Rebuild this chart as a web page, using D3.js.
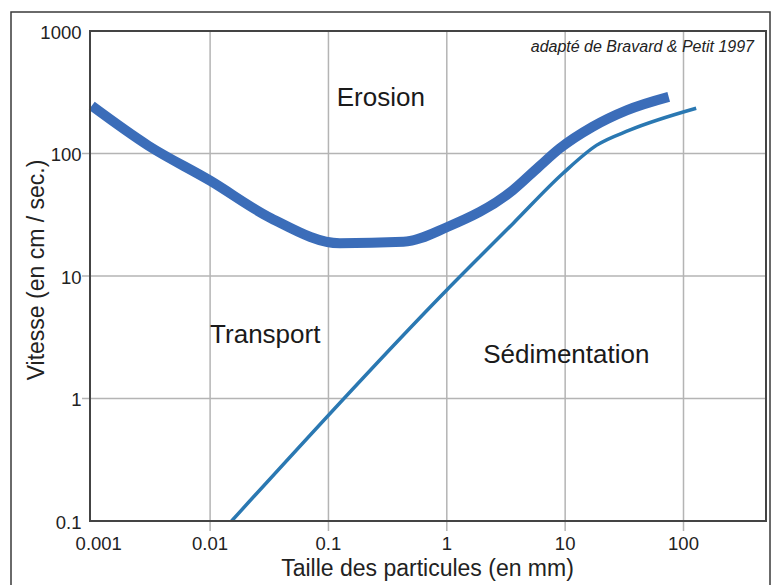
<!DOCTYPE html>
<html><head><meta charset="utf-8">
<script src="https://cdn.jsdelivr.net/npm/d3@7"></script>
<style>
html,body{margin:0;padding:0;background:#fff;}
svg{display:block;font-family:"Liberation Sans",Arial,sans-serif;}
</style></head>
<body>
<svg id="chart" width="771" height="585"></svg>
<script>
// ---- data ----
const xTicks = [0.001, 0.01, 0.1, 1, 10, 100];
const xTickLabels = ["0.001", "0.01", "0.1", "1", "10", "100"];
const yTicks = [0.1, 1, 10, 100, 1000];
const yTickLabels = ["0.1", "1", "10", "100", "1000"];

const erosionSize  = [0.001, 0.003, 0.01, 0.033, 0.125, 0.43, 1, 3.6, 6, 9, 17, 33, 75];
const erosionSpeed = [245, 116, 60, 29.5, 18.5, 19, 25, 50, 78, 110, 165, 225, 290];

const sedimSize  = [0.0152, 1, 3.65, 9.6, 18.5, 35, 128];
const sedimSpeed = [0.1, 7.7, 27, 69, 117, 155, 234];

const regionLabels = ["Erosion", "Transport", "Sédimentation"];
const regionSize  = [0.1175, 0.01, 2.03];
const regionSpeed = [245, 2.83, 1.94];

// ---- layout ----
const svg = d3.select("#chart");
const L = 90, R = 766, T = 31, B = 521;

const x = d3.scaleLog().domain([0.001, 1000]).range([91.75, 91.75 + 6 * 118.35]);
const y = d3.scaleLog().domain([0.1, 1000]).range([B, T]);

// outer frame
svg.append("rect").attr("x", 11).attr("y", 12).attr("width", 759).attr("height", 600)
  .attr("fill", "none").attr("stroke", "#3a3a3a").attr("stroke-width", 1.5);

// gridlines
const grid = svg.append("g").attr("stroke", "#b4b4b4").attr("stroke-width", 1.5);
grid.selectAll("line.v").data(xTicks.slice(1)).join("line")
  .attr("x1", d => x(d)).attr("x2", d => x(d)).attr("y1", T).attr("y2", B + 10);
grid.selectAll("line.h").data(yTicks.slice(1, -1)).join("line")
  .attr("y1", d => y(d)).attr("y2", d => y(d)).attr("x1", L - 8).attr("x2", R);

// clip
svg.append("clipPath").attr("id", "clip").append("rect")
  .attr("x", L).attr("y", T).attr("width", R - L).attr("height", B - T);

const line = d3.line().x(d => x(d[0])).y(d => y(d[1])).curve(d3.curveMonotoneX);

svg.append("path")
  .datum(sedimSize.map((s, i) => [s, sedimSpeed[i]]))
  .attr("d", line).attr("fill", "none")
  .attr("stroke", "#2a78b2").attr("stroke-width", 3.5)
  .attr("stroke-linejoin", "round").attr("clip-path", "url(#clip)");

svg.append("path")
  .datum(erosionSize.map((s, i) => [s, erosionSpeed[i]]))
  .attr("d", line).attr("fill", "none")
  .attr("stroke", "#3b6db9").attr("stroke-width", 10)
  .attr("stroke-linejoin", "round").attr("stroke-linecap", "butt");

// plot frame
svg.append("rect").attr("x", L).attr("y", T).attr("width", R - L).attr("height", B - T)
  .attr("fill", "none").attr("stroke", "#444").attr("stroke-width", 2);

// tick labels
svg.append("g").selectAll("text").data(xTicks).join("text")
  .attr("x", (d, i) => x(d) + (i === 0 ? 7 : 0)).attr("y", 549.5)
  .attr("text-anchor", "middle").attr("font-size", 18.5).attr("fill", "#222")
  .text((d, i) => xTickLabels[i]);

svg.append("g").selectAll("text").data(yTicks).join("text")
  .attr("x", 81.5).attr("y", d => y(d) + 7.5)
  .attr("text-anchor", "end").attr("font-size", 18.5).attr("fill", "#222")
  .text((d, i) => yTickLabels[i]);

// axis titles
svg.append("text").attr("x", 427.5).attr("y", 576).attr("text-anchor", "middle")
  .attr("font-size", 23).attr("fill", "#222").text("Taille des particules (en mm)");
svg.append("text").attr("transform", "translate(43.5,270) rotate(-90)")
  .attr("text-anchor", "middle").attr("font-size", 23).attr("fill", "#222")
  .text("Vitesse (en cm / sec.)");

// region labels
svg.append("g").selectAll("text").data(regionLabels).join("text")
  .attr("x", (d, i) => x(regionSize[i])).attr("y", (d, i) => y(regionSpeed[i]))
  .attr("font-size", 26).attr("fill", "#1a1a1a").text(d => d);

// source note
svg.append("text").attr("x", 754).attr("y", 52).attr("text-anchor", "end")
  .attr("font-size", 16).attr("font-style", "italic").attr("fill", "#222")
  .text("adapté de Bravard & Petit 1997");
</script>
</body></html>
